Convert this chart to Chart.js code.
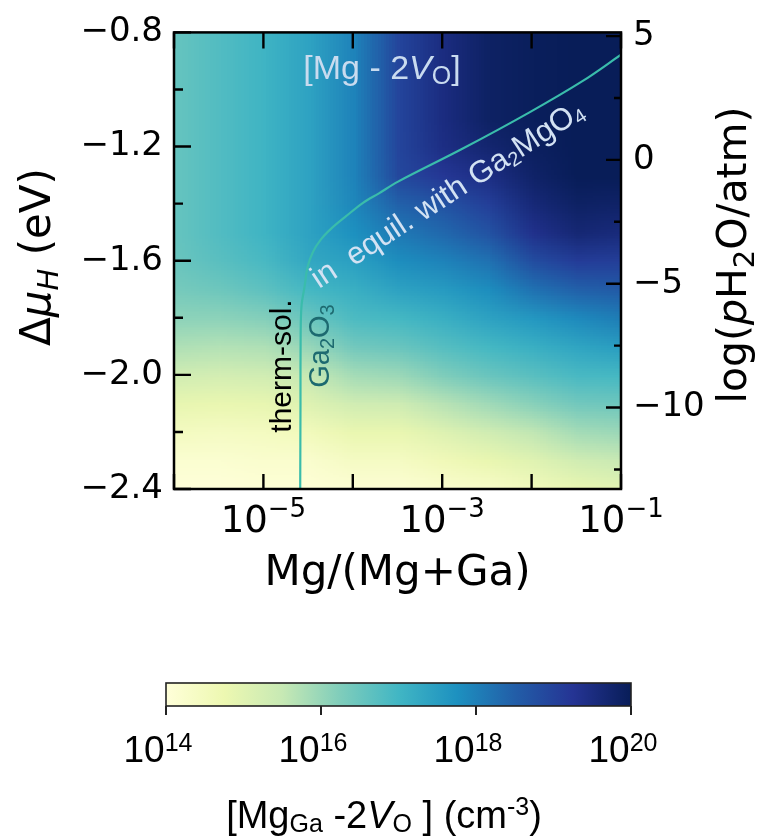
<!DOCTYPE html>
<html><head><meta charset="utf-8">
<script src="https://cdn.jsdelivr.net/npm/chart.js@4.4.1/dist/chart.umd.min.js"></script>
<style>
html,body{margin:0;padding:0;background:#fff;}
#wrap{position:relative;width:757px;height:840px;overflow:hidden;}
#main{position:absolute;left:0;top:0;}
#cbar{position:absolute;left:0;top:620px;}
</style></head><body>
<div id="wrap">
<canvas id="main" width="757" height="620"></canvas>
<canvas id="cbar" width="757" height="220"></canvas>
</div>
<script>
// ---------- DATA ----------
// heat-map grid: columns = log10(Mg/(Mg+Ga)), rows = Δμ_H (eV)
const mgFractionLog = [-6, -5.5, -5, -4.5, -4, -3.5, -3, -2.5, -2, -1.5, -1];
const deltaMuH = [-0.8, -0.9, -1.0, -1.1, -1.2, -1.3, -1.4, -1.5, -1.6, -1.7, -1.8, -1.9, -2.0, -2.1, -2.2, -2.3, -2.4];
// log10 of [Mg_Ga - 2V_O] concentration (cm^-3), one row per Δμ_H value
const logConcentration = [
  [16.55,16.8,17.05,17.4,17.95,18.95,19.5,19.85,19.95,20.0,20.0],
  [16.55,16.8,17.05,17.4,17.95,18.95,19.5,19.85,19.95,20.0,20.0],
  [16.55,16.8,17.05,17.4,17.95,18.95,19.5,19.85,19.95,20.0,20.0],
  [16.55,16.8,17.05,17.4,17.95,18.95,19.5,19.85,19.95,20.0,20.0],
  [16.55,16.8,17.05,17.4,17.95,18.95,19.45,19.7,19.9,20.0,20.0],
  [16.55,16.8,17.05,17.4,17.95,18.9,19.2,19.45,19.8,20.0,20.0],
  [16.55,16.8,17.05,17.4,17.9,18.45,18.7,19.05,19.6,19.85,19.8],
  [16.55,16.8,17.05,17.4,17.75,18.1,18.35,18.7,19.35,19.65,19.55],
  [16.5,16.7,16.9,17.3,17.45,17.8,17.95,18.2,18.8,19.1,19.05],
  [16.35,16.45,16.65,16.95,17.15,17.4,17.55,17.8,18.2,18.45,18.55],
  [16.1,16.1,16.2,16.5,16.85,16.95,17.15,17.4,17.6,17.85,18.05],
  [15.75,15.7,15.75,16.0,16.4,16.5,16.75,16.95,17.15,17.35,17.5],
  [15.3,15.25,15.3,15.5,15.85,15.95,16.25,16.5,16.7,16.9,16.95],
  [14.85,14.8,14.85,15.05,15.3,15.35,15.65,15.9,16.15,16.4,16.45],
  [14.45,14.4,14.45,14.55,14.8,14.8,15.05,15.3,15.55,15.85,15.95],
  [14.15,14.15,14.2,14.2,14.4,14.4,14.6,14.8,15.0,15.3,15.45],
  [14.0,14.0,14.05,14.05,14.1,14.1,14.2,14.3,14.55,14.8,14.95]
];
// solubility boundary curve
const curveMgFraction = [2.58e-5, 2.60e-5, 2.61e-5, 2.67e-5, 2.89e-5, 3.12e-5, 3.56e-5, 4.36e-5, 5.81e-5, 8.34e-5, 1.29e-4, 1.96e-4, 3.21e-4, 1.68e-3, 9.25e-3, 3.74e-2, 0.1];
const curveDeltaMu    = [-2.4, -2.097, -1.86, -1.758, -1.69, -1.622, -1.571, -1.527, -1.486, -1.445, -1.398, -1.364, -1.323, -1.208, -1.082, -0.97, -0.878];
// axes / ticks
const xTickExponents = [-6, -5, -4, -3, -2, -1];
const xLabelExponents = [-5, -3, -1];
const yTicksLeft = [-2.4, -2.2, -2.0, -1.8, -1.6, -1.4, -1.2, -1.0, -0.8];
const yLabelsLeft = [-2.4, -2.0, -1.6, -1.2, -0.8];
const yTicksRight = [-12.5, -10, -7.5, -5, -2.5, 0, 2.5, 5];
const yLabelsRight = [-10, -5, 0, 5];
const rightAxisRange = [-13.29, 5.15];
const cbarTickExponents = [14, 16, 18, 20];
const cbarRange = [14, 20];
const ylgnbu = ['#ffffd9','#edf8b1','#c7e9b4','#7fcdbb','#41b6c4','#1d91c0','#225ea8','#253494','#081d58'];

// ---------- helpers ----------
function hexRgb(h){ return [parseInt(h.slice(1,3),16),parseInt(h.slice(3,5),16),parseInt(h.slice(5,7),16)]; }
const cmapRgb = ylgnbu.map(hexRgb);
function cmap(t){
  t = Math.max(0, Math.min(1, t));
  const f = t*(cmapRgb.length-1); const i = Math.min(cmapRgb.length-2, Math.floor(f)); const u = f-i;
  const a = cmapRgb[i], b = cmapRgb[i+1];
  return [0,1,2].map(k => Math.round(a[k]+(b[k]-a[k])*u));
}
const minus = s => String(s).replace('-', '\u2212');
const isIn = (arr, v) => arr.some(m => Math.abs(m - v) < 1e-9);
function drawRich(ctx, segs, x, y, align, rot, color){
  ctx.save(); ctx.translate(x, y); ctx.rotate(rot||0);
  ctx.textBaseline = 'alphabetic'; ctx.textAlign = 'left';
  let w = 0; for (const s of segs){ ctx.font = s.font; w += ctx.measureText(s.t).width; }
  let cx = align === 'center' ? -w/2 : (align === 'right' ? -w : 0);
  for (const s of segs){ ctx.font = s.font; ctx.fillStyle = s.color || color || '#000'; ctx.fillText(s.t, cx, s.dy || 0); cx += ctx.measureText(s.t).width; }
  ctx.restore();
}
const DV = 'DejaVu Sans', LS = 'Liberation Sans';

// ---------- main chart plugins ----------
const heatPlugin = {
  id: 'heat',
  beforeDatasetsDraw(chart){
    const {ctx, chartArea: a} = chart; const xs = chart.scales.x, ys = chart.scales.y;
    const nC = mgFractionLog.length, nR = deltaMuH.length;
    const off = document.createElement('canvas'); off.width = nC; off.height = nR;
    const octx = off.getContext('2d'); const img = octx.createImageData(nC, nR);
    for (let r = 0; r < nR; r++) for (let c = 0; c < nC; c++){
      const col = cmap((logConcentration[r][c] - cbarRange[0])/(cbarRange[1]-cbarRange[0]));
      const p = (r*nC + c)*4; img.data[p]=col[0]; img.data[p+1]=col[1]; img.data[p+2]=col[2]; img.data[p+3]=255;
    }
    octx.putImageData(img, 0, 0);
    const hx = 0.5*(mgFractionLog[1]-mgFractionLog[0]);
    const hy = 0.5*(deltaMuH[0]-deltaMuH[1]);
    const x0 = xs.getPixelForValue(Math.pow(10, mgFractionLog[0]-hx));
    const x1 = xs.getPixelForValue(Math.pow(10, mgFractionLog[nC-1]+hx));
    const y0 = ys.getPixelForValue(deltaMuH[0]+hy);
    const y1 = ys.getPixelForValue(deltaMuH[nR-1]-hy);
    ctx.save(); ctx.beginPath(); ctx.rect(a.left, a.top, a.right-a.left, a.bottom-a.top); ctx.clip();
    ctx.imageSmoothingEnabled = true; ctx.imageSmoothingQuality = 'low';
    ctx.drawImage(off, x0, y0, x1-x0, y1-y0);
    ctx.restore();
  }
};

const decorPlugin = {
  id: 'decor',
  afterDatasetsDraw(chart){
    const {ctx, chartArea: a} = chart; const xs = chart.scales.x, ys = chart.scales.y, y2 = chart.scales.y2;
    // annotations
    drawRich(ctx, [
      {t:'[Mg - 2', font:`34px ${LS}`}, {t:'V', font:`italic 34px ${LS}`},
      {t:'O', font:`25px ${LS}`, dy:5}, {t:']', font:`34px ${LS}`}
    ], 382, 79, 'center', 0, '#c9dbef');
    drawRich(ctx, [
      {t:'in  equil. with Ga', font:`31px ${LS}`}, {t:'2', font:`20px ${LS}`, dy:4},
      {t:'MgO', font:`31px ${LS}`}, {t:'4', font:`20px ${LS}`, dy:4}
    ], 319, 289, 'left', -33*Math.PI/180, '#d3e2f3');
    drawRich(ctx, [{t:'therm-sol.', font:`30px ${LS}`}], 291, 366, 'center', -Math.PI/2, '#000');
    drawRich(ctx, [
      {t:'Ga', font:`29px ${LS}`}, {t:'2', font:`20px ${LS}`, dy:5},
      {t:'O', font:`29px ${LS}`}, {t:'3', font:`20px ${LS}`, dy:5}
    ], 329, 346, 'center', -Math.PI/2, '#1d6a70');
    // frame
    ctx.save(); ctx.strokeStyle = '#000'; ctx.lineWidth = 2.5;
    ctx.strokeRect(a.left, a.top, a.right-a.left, a.bottom-a.top);
    // ticks
    ctx.lineWidth = 2.4; ctx.beginPath();
    for (const e of xTickExponents){
      const px = xs.getPixelForValue(Math.pow(10, e));
      ctx.moveTo(px, a.bottom); ctx.lineTo(px, a.bottom-15);
      ctx.moveTo(px, a.top); ctx.lineTo(px, a.top+16);
    }
    for (const v of yTicksLeft){
      const py = ys.getPixelForValue(v); const len = isIn(yLabelsLeft, v) ? 17 : 9;
      ctx.moveTo(a.left, py); ctx.lineTo(a.left+len, py);
    }
    for (const v of yTicksRight){
      const py = y2.getPixelForValue(v); const len = isIn(yLabelsRight, v) ? 15 : 7;
      ctx.moveTo(a.right, py); ctx.lineTo(a.right-len, py);
    }
    ctx.stroke(); ctx.restore();
    // x tick labels
    for (const e of xLabelExponents){
      const px = xs.getPixelForValue(Math.pow(10, e));
      drawRich(ctx, [{t:'10', font:`37px ${DV}`}, {t:minus(e), font:`26px ${DV}`, dy:-15}], px, 532, 'center', 0, '#000');
    }
    // axis titles
    drawRich(ctx, [{t:'Mg/(Mg+Ga)', font:`42px ${DV}`}], (a.left+a.right)/2, 585, 'center', 0, '#000');
    drawRich(ctx, [
      {t:'\u0394', font:`42px ${DV}`}, {t:'\u03bc', font:`italic 42px ${DV}`},
      {t:'H', font:`italic 29px ${DV}`, dy:8}, {t:' (eV)', font:`42px ${DV}`}
    ], 50, 257, 'center', -Math.PI/2, '#000');
    drawRich(ctx, [
      {t:'log(', font:`41px ${DV}`}, {t:'p', font:`italic 41px ${DV}`}, {t:'H', font:`41px ${DV}`},
      {t:'2', font:`29px ${DV}`, dy:8}, {t:'O/atm)', font:`41px ${DV}`}
    ], 746, 255, 'center', -Math.PI/2, '#000');
  }
};

const curvePoints = curveMgFraction.map((x, i) => ({x: x, y: curveDeltaMu[i]}));

new Chart(document.getElementById('main'), {
  type: 'scatter',
  data: { datasets: [{
    label: 'solubility limit', data: curvePoints, showLine: true,
    borderColor: '#3abcab', borderWidth: 2.2, pointRadius: 0, tension: 0.35, fill: false
  }]},
  options: {
    responsive: false, animation: false, events: [],
    layout: { padding: { top: 18, left: 0, right: 0, bottom: 0 } },
    plugins: { legend: { display: false }, tooltip: { enabled: false } },
    scales: {
      x: {
        type: 'logarithmic', position: 'bottom', min: 1e-6, max: 1e-1,
        grid: { display: false }, border: { display: false }, ticks: { display: false },
        afterBuildTicks: s => { s.ticks = xTickExponents.map(e => ({ value: Math.pow(10, e) })); },
        afterFit: s => { s.height = 131; }
      },
      y: {
        type: 'linear', position: 'left', min: -2.4, max: -0.8,
        grid: { display: false, drawTicks: false }, border: { display: false },
        afterBuildTicks: s => { s.ticks = yTicksLeft.map(v => ({ value: v })); },
        ticks: { autoSkip: false, padding: 11, color: '#000', font: { family: DV, size: 34 },
          callback: v => isIn(yLabelsLeft, v) ? minus(v.toFixed(1)) : '' },
        afterFit: s => { s.width = 174; }
      },
      y2: {
        type: 'linear', position: 'right', min: rightAxisRange[0], max: rightAxisRange[1],
        grid: { display: false, drawTicks: false }, border: { display: false },
        afterBuildTicks: s => { s.ticks = yTicksRight.map(v => ({ value: v })); },
        ticks: { autoSkip: false, padding: 12, color: '#000', font: { family: DV, size: 34 },
          callback: v => isIn(yLabelsRight, v) ? minus(v.toFixed(0)) : '' },
        afterFit: s => { s.width = 136; }
      }
    }
  },
  plugins: [heatPlugin, decorPlugin]
});

// ---------- colour bar ----------
const cbarPlugin = {
  id: 'cbarDraw',
  afterDraw(chart){
    const {ctx, chartArea: a} = chart; const xs = chart.scales.x;
    const g = ctx.createLinearGradient(a.left, 0, a.right, 0);
    ylgnbu.forEach((c, i) => {
      const v = cbarRange[0] + (cbarRange[1]-cbarRange[0]) * i/(ylgnbu.length-1);
      const px = xs.getPixelForValue(Math.pow(10, v));
      g.addColorStop(Math.max(0, Math.min(1, (px - a.left)/(a.right - a.left))), c);
    });
    ctx.save();
    ctx.fillStyle = g; ctx.fillRect(a.left, a.top, a.right-a.left, a.bottom-a.top);
    ctx.strokeStyle = '#222'; ctx.lineWidth = 1.6; ctx.strokeRect(a.left, a.top, a.right-a.left, a.bottom-a.top);
    ctx.lineWidth = 2; ctx.strokeStyle = '#222'; ctx.beginPath();
    for (const e of cbarTickExponents){
      const px = xs.getPixelForValue(Math.pow(10, e));
      ctx.moveTo(px, a.bottom); ctx.lineTo(px, a.bottom+9);
    }
    ctx.stroke(); ctx.restore();
    for (const e of cbarTickExponents){
      const px = xs.getPixelForValue(Math.pow(10, e));
      drawRich(ctx, [{t:'10', font:`37px ${LS}`}, {t:String(e), font:`25px ${LS}`, dy:-11}], px - 8, 142, 'center', 0, '#000');
    }
    drawRich(ctx, [
      {t:'[Mg', font:`38px ${LS}`}, {t:'Ga', font:`25px ${LS}`, dy:4},
      {t:' -2', font:`38px ${LS}`}, {t:'V', font:`italic 38px ${LS}`}, {t:'O', font:`25px ${LS}`, dy:4},
      {t:' ] (cm', font:`38px ${LS}`}, {t:'-3', font:`25px ${LS}`, dy:-13}, {t:')', font:`38px ${LS}`}
    ], 384, 208, 'center', 0, '#000');
  }
};

new Chart(document.getElementById('cbar'), {
  type: 'scatter',
  data: { datasets: [{ label: 'colour scale', data: [] }] },
  options: {
    responsive: false, animation: false, events: [],
    layout: { padding: { left: 166, right: 126, top: 63, bottom: 0 } },
    plugins: { legend: { display: false }, tooltip: { enabled: false } },
    scales: {
      x: {
        type: 'logarithmic', position: 'bottom', min: Math.pow(10, cbarRange[0]), max: Math.pow(10, cbarRange[1]),
        grid: { display: false }, border: { display: false }, ticks: { display: false },
        afterBuildTicks: s => { s.ticks = cbarTickExponents.map(e => ({ value: Math.pow(10, e) })); },
        afterFit: s => { s.height = 134; }
      },
      y: { display: false, min: 0, max: 1 }
    }
  },
  plugins: [cbarPlugin]
});
</script>
</body></html>
